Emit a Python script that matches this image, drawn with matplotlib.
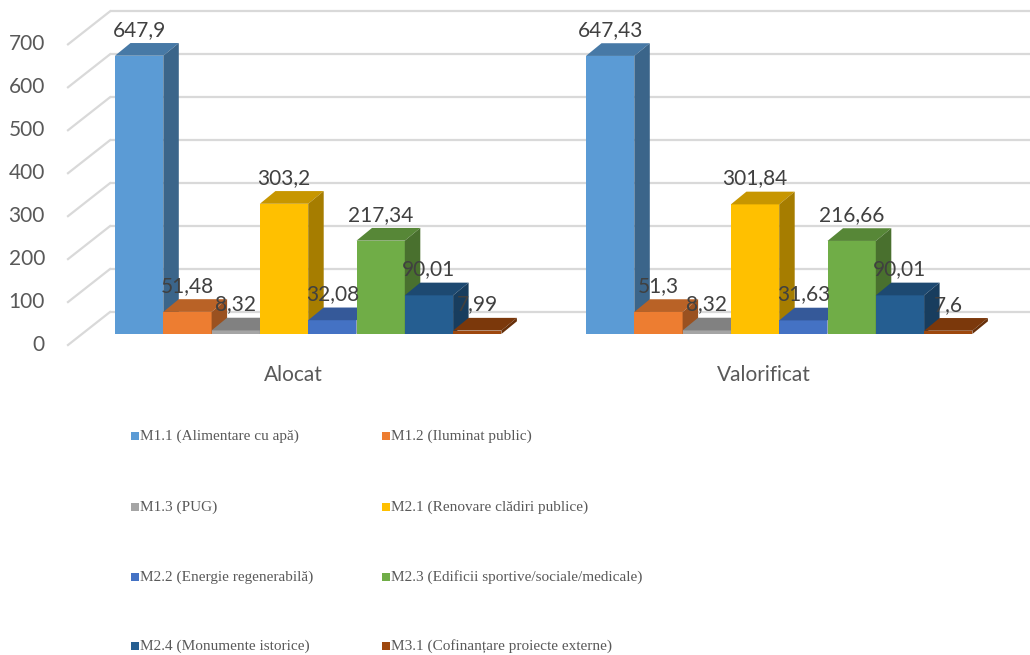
import matplotlib
matplotlib.use("Agg")
import matplotlib.pyplot as plt
from matplotlib.patches import Polygon, Rectangle
import matplotlib.colors as mcolors
import numpy as np

# ---------------- data ----------------
categories = ["Alocat", "Valorificat"]
series = ["M1.1 (Alimentare cu apă)", "M1.2 (Iluminat public)", "M1.3 (PUG)",
          "M2.1 (Renovare clădiri publice)", "M2.2 (Energie regenerabilă)",
          "M2.3 (Edificii sportive/sociale/medicale)", "M2.4 (Monumente istorice)",
          "M3.1 (Cofinanțare proiecte externe)"]
alocat = [647.9, 51.48, 8.32, 303.2, 32.08, 217.34, 90.01, 7.99]
valorificat = [647.43, 51.3, 8.32, 301.84, 31.63, 216.66, 90.01, 7.6]
yticks = [0, 100, 200, 300, 400, 500, 600, 700]
colors = ["#5B9BD5", "#ED7D31", "#A5A5A5", "#FFC000", "#4472C4", "#70AD47", "#255E91", "#9E480E"]

values = [alocat, valorificat]

# ---------------- geometry (pixel based scale) ----------------
W_PX = 1030
H_PX = 655
S = 0.4295          # px per value unit
BW = 48.3           # px per bar (x unit)
X0 = 115            # px of first bar left edge
Y0 = 334            # px of bar base
GAP = (586 - X0) / BW

DX = 15.5 / BW
DY = 12.7 / S
BACK_OFF = 22 / S
FRONT_OFF = -11 / S
XB = (110 - X0) / BW
XF = (68 - X0) / BW

FS = 15


def shade(c, f):
    r, g, b = mcolors.to_rgb(c)
    return (r * f, g * f, b * f)


fig = plt.figure(figsize=(W_PX / 100, H_PX / 100), dpi=100)
ax = fig.add_axes([0, 0, 1, 1])
ax.set_xlim(-X0 / BW, (W_PX - X0) / BW)
ax.set_ylim((Y0 - H_PX) / S, Y0 / S)
ax.axis("off")

grid_c = "#D9D9D9"
xmax = (W_PX - X0) / BW
for v in yticks:
    yb = v + BACK_OFF
    yf = v + FRONT_OFF
    ax.plot([XB, xmax], [yb, yb], color=grid_c, lw=1.6, zorder=1, solid_capstyle="butt")
    ax.plot([XF, XB], [yf, yb], color=grid_c, lw=1.6, zorder=1)
    ax.text((45 - X0) / BW, yf, str(v), ha="right", va="center",
            fontsize=FS, color="#595959", family="Lato")

z = 5
for g, vals in enumerate(values):
    base = g * GAP
    for i, v in enumerate(vals):
        x = base + i
        c = colors[i]
        ax.bar(x, v, width=1, align="edge", color=c, edgecolor="none", zorder=z)
        top = Polygon([(x, v), (x + 1, v), (x + 1 + DX, v + DY), (x + DX, v + DY)],
                      closed=True, facecolor=shade(c, 0.78), edgecolor="none", zorder=z + 1)
        side = Polygon([(x + 1, 0), (x + 1 + DX, DY), (x + 1 + DX, v + DY), (x + 1, v)],
                       closed=True, facecolor=shade(c, 0.65), edgecolor="none", zorder=z + 1)
        ax.add_patch(top)
        ax.add_patch(side)
        z += 2
        lab = str(v).replace(".", ",")
        ax.text(x + 0.5, v + 26 / S, lab, ha="center", va="center", fontsize=FS,
                color="#404040", family="Lato", zorder=100)
    ax.text(base + 4 - 0.31, (Y0 - 375) / S, categories[g], ha="center", va="center",
            fontsize=FS, color="#595959", family="Lato")

# ---------------- legend ----------------
row_y = [436, 507, 577, 646]
col_mx = [131, 382]
for i, name in enumerate(series):
    r, cidx = divmod(i, 2)
    mx = col_mx[cidx]
    y = row_y[r]
    fig.patches.append(Rectangle((mx / W_PX, 1 - (y + 4) / H_PX), 8 / W_PX, 8 / H_PX,
                                 transform=fig.transFigure, facecolor=colors[i],
                                 edgecolor="none"))
    fig.text((mx + 9) / W_PX, 1 - y / H_PX, name, ha="left", va="center",
             fontsize=11, color="#595959", family="Liberation Serif")

fig.savefig("out.png", dpi=100)
